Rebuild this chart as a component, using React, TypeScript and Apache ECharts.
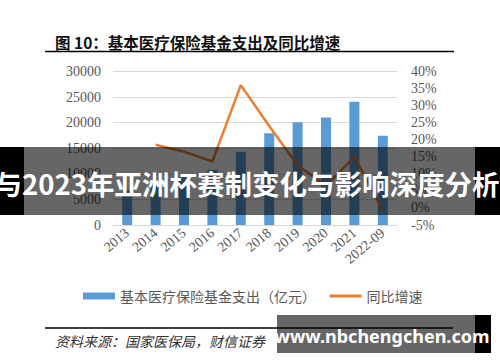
import React, { useEffect, useRef } from "react";
import * as echarts from "echarts";

const categories = ["2013", "2014", "2015", "2016", "2017", "2018", "2019", "2020", "2021", "2022-09"];
const expenditure = [6800, 8130, 9310, 10770, 14300, 17950, 20100, 21000, 24070, 17420];
const growth = [null, 18.5, 16.5, 13.6, 36.0, 24.0, 12.5, 6.5, 15.0, -0.6];
const leftTicks = { min: 0, max: 30000, interval: 5000 };
const rightTicks = { min: -5, max: 40, interval: 5 };

const TITLE = "图 10：基本医疗保险基金支出及同比增速";
const SOURCE = "资料来源：国家医保局，财信证券";
const BANNER = "与2023年亚洲杯赛制变化与影响深度分析";
const WATERMARK = "www.nbchengchen.com";
const SERIES_BAR = "基本医疗保险基金支出（亿元）";
const SERIES_LINE = "同比增速";

export default function App() {
  const ref = useRef<HTMLDivElement>(null);
  useEffect(() => {
    if (!ref.current) return;
    const chart = echarts.init(ref.current, null, { renderer: "svg" });
    const serif = "'Liberation Serif', 'DejaVu Serif', serif";
    const cjk = "'Noto Sans CJK SC', sans-serif";
    chart.setOption({
      animation: false,
      backgroundColor: "#fff",
      grid: { left: 113, right: 103, top: 71.5, bottom: 137, containLabel: false },
      legend: {
        bottom: 54,
        left: 78,
        itemWidth: 32,
        itemHeight: 7,
        itemGap: 12,
        textStyle: { color: "#595959", fontSize: 14, fontFamily: cjk },
        data: [
          { name: SERIES_BAR, icon: "rect" },
          { name: SERIES_LINE, itemStyle: { opacity: 0 }, lineStyle: { color: "#ed7d31", width: 3 } },
        ],
      },
      xAxis: {
        type: "category",
        data: categories,
        boundaryGap: true,
        axisTick: { show: false },
        axisLine: { lineStyle: { color: "#d9d9d9", width: 1 } },
        axisLabel: { rotate: 40, color: "#595959", fontSize: 14, fontFamily: serif, margin: 6, interval: 0 },
      },
      yAxis: [
        {
          type: "value",
          min: leftTicks.min,
          max: leftTicks.max,
          interval: leftTicks.interval,
          axisLine: { show: false },
          axisTick: { show: false },
          splitLine: { lineStyle: { color: "#d9d9d9", width: 1 } },
          axisLabel: {
            color: "#595959",
            fontSize: 14,
            fontFamily: serif,
            margin: 12,
            formatter: (v: number) => String(v),
          },
        },
        {
          type: "value",
          min: rightTicks.min,
          max: rightTicks.max,
          interval: rightTicks.interval,
          axisLine: { show: false },
          axisTick: { show: false },
          splitLine: { show: false },
          axisLabel: { color: "#595959", fontSize: 14, fontFamily: serif, margin: 14, formatter: "{value}%" },
        },
      ],
      series: [
        {
          name: SERIES_BAR,
          type: "bar",
          data: expenditure,
          barWidth: 10,
          itemStyle: { color: "#5b9bd5" },
        },
        {
          name: SERIES_LINE,
          type: "line",
          yAxisIndex: 1,
          data: growth,
          symbol: "none",
          lineStyle: { color: "#ed7d31", width: 2.5 },
          itemStyle: { color: "#ed7d31" },
        },
      ],
      graphic: [
        {
          type: "text",
          left: 55,
          top: 34,
          z: 100,
          style: { text: TITLE, fontSize: 15.5, fontWeight: "bold", fontFamily: cjk, fill: "#111" },
        },
        {
          type: "line",
          z: 100,
          shape: { x1: 45, y1: 51.5, x2: 454, y2: 51.5 },
          style: { stroke: "#000", lineWidth: 1.5 },
        },
        {
          type: "line",
          z: 100,
          shape: { x1: 45, y1: 328, x2: 453, y2: 328 },
          style: { stroke: "#000", lineWidth: 1.5 },
        },
        {
          type: "text",
          left: 55,
          top: 334,
          z: 100,
          style: { text: SOURCE, fontSize: 14, fontStyle: "italic", fontFamily: cjk, fill: "#333" },
        },
        {
          type: "rect",
          z: 200,
          shape: { x: 24, y: 147, width: 451, height: 68 },
          style: { fill: "rgba(0,0,0,0.6)" },
        },
        { type: "rect", z: 200, shape: { x: 0, y: 147, width: 24, height: 68 }, style: { fill: "#000" } },
        { type: "rect", z: 200, shape: { x: 475, y: 147, width: 25, height: 68 }, style: { fill: "#000" } },
        {
          type: "text",
          z: 210,
          x: 247,
          y: 183,
          style: {
            text: BANNER,
            fontSize: 27.5,
            fontWeight: "bold",
            fontFamily: cjk,
            fill: "#fff",
            align: "center",
            verticalAlign: "middle",
          },
        },
        {
          type: "rect",
          z: 200,
          shape: { x: 277, y: 315, width: 198, height: 38 },
          style: { fill: "rgba(0,0,0,0.6)" },
        },
        { type: "rect", z: 200, shape: { x: 475, y: 315, width: 16, height: 38 }, style: { fill: "#000" } },
        {
          type: "text",
          z: 210,
          x: 382,
          y: 336,
          style: {
            text: WATERMARK,
            fontSize: 18,
            fontWeight: "bold",
            fontFamily: "'Noto Sans', sans-serif",
            fill: "#fff",
            align: "center",
            verticalAlign: "middle",
          },
        },
      ],
    });
    return () => chart.dispose();
  }, []);
  return <div ref={ref} style={{ position: "fixed", left: 0, top: 0, width: 500, height: 362 }} />;
}
